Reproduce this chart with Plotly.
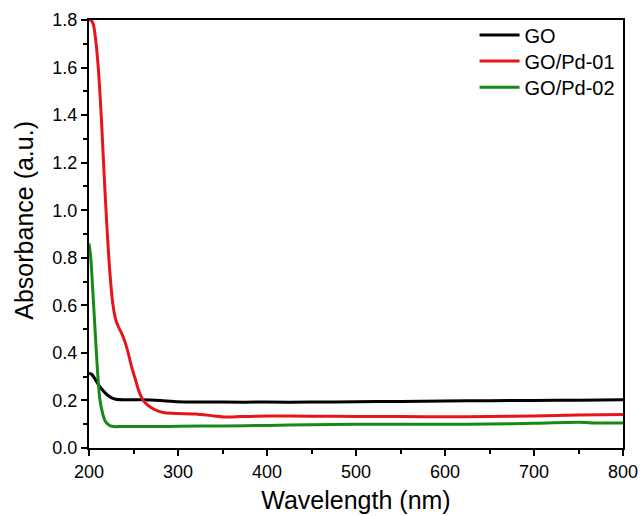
import plotly.graph_objects as go

# wavelength grid (nm) and absorbance
wl_go = [200, 203, 206, 210, 215, 220, 225, 230, 240, 260, 280, 300, 350, 400, 450, 500, 550, 600, 650, 700, 750, 800]
abs_go = [0.315, 0.31, 0.295, 0.27, 0.245, 0.225, 0.212, 0.205, 0.203, 0.203, 0.2, 0.195, 0.193, 0.193, 0.193, 0.195, 0.196, 0.198, 0.199, 0.2, 0.201, 0.203]

wl_pd1 = [200, 202, 205, 208, 211, 214, 217, 220, 223, 227, 230, 233, 237, 241, 244, 248, 252, 256, 261, 266, 272, 278, 285, 300, 320, 340, 353, 370, 400, 450, 500, 550, 600, 650, 700, 750, 800]
abs_pd1 = [1.8, 1.8, 1.78, 1.7, 1.57, 1.38, 1.15, 0.94, 0.76, 0.6, 0.54, 0.51, 0.48, 0.44, 0.4, 0.34, 0.29, 0.24, 0.2, 0.18, 0.165, 0.155, 0.148, 0.145, 0.143, 0.135, 0.13, 0.132, 0.135, 0.134, 0.133, 0.132, 0.131, 0.132, 0.135, 0.139, 0.141]

wl_pd2 = [200, 202, 204, 206, 208, 210, 212, 215, 218, 221, 224, 228, 235, 250, 280, 300, 350, 400, 450, 500, 550, 600, 650, 700, 750, 770, 800]
abs_pd2 = [0.86, 0.8, 0.68, 0.55, 0.42, 0.3, 0.21, 0.15, 0.115, 0.1, 0.093, 0.09, 0.09, 0.09, 0.09, 0.091, 0.093, 0.095, 0.098, 0.1, 0.1, 0.1, 0.101, 0.104, 0.108, 0.105, 0.105]

names = ["GO", "GO/Pd-01", "GO/Pd-02"]
colors = ["#000000", "#e8141b", "#158a15"]

x_ticks = [200, 300, 400, 500, 600, 700, 800]
y_ticks = [0.0, 0.2, 0.4, 0.6, 0.8, 1.0, 1.2, 1.4, 1.6, 1.8]

font_fam = "Arial, Liberation Sans"
legend_names = ["legend", "legend2", "legend3"]

fig = go.Figure()
for wl, ab, name, col, lg in zip([wl_go, wl_pd1, wl_pd2], [abs_go, abs_pd1, abs_pd2], names, colors, legend_names):
    fig.add_trace(go.Scatter(x=wl, y=ab, mode="lines", name=name, legend=lg, showlegend=True,
                             line=dict(color=col, width=3, shape="spline", smoothing=0.6)))

axis_font = dict(family=font_fam, size=18, color="black")
fig.update_xaxes(range=[200, 800], tickvals=x_ticks, ticktext=[str(v) for v in x_ticks],
                 showline=True, linecolor="black", linewidth=2, mirror=True,
                 ticks="outside", ticklen=6, tickwidth=2, tickcolor="black",
                 minor=dict(ticks="outside", ticklen=4, tickwidth=2, tickcolor="black", dtick=50, showgrid=False),
                 showgrid=False, zeroline=False, tickfont=axis_font,
                 title=dict(text="Wavelength (nm)", font=dict(family=font_fam, size=25, color="black"), standoff=11))
fig.update_yaxes(range=[0, 1.8], tickvals=y_ticks, ticktext=["%.1f" % v for v in y_ticks],
                 showline=True, linecolor="black", linewidth=2, mirror=True,
                 ticks="outside", ticklen=6, tickwidth=2, tickcolor="black",
                 minor=dict(ticks="outside", ticklen=4, tickwidth=2, tickcolor="black", dtick=0.1, showgrid=False),
                 showgrid=False, zeroline=False, tickfont=axis_font)

# y title as an annotation: in the reference it sits a bit above the axis middle
fig.add_annotation(text="Absorbance (a.u.)", textangle=-90, xref="paper", yref="paper",
                   x=-0.122, y=0.533, xanchor="center", yanchor="middle", showarrow=False,
                   font=dict(family=font_fam, size=25, color="black"))

# one legend per entry so the rows can sit as tightly as in the reference
leg_style = dict(x=0.722, xanchor="left", yanchor="middle", bgcolor="rgba(0,0,0,0)",
                 font=dict(family=font_fam, size=20, color="black"), itemwidth=40)
fig.update_layout(width=641, height=516, margin=dict(l=89, r=18, t=20, b=68, autoexpand=False),
                  paper_bgcolor="white", plot_bgcolor="white", showlegend=True,
                  legend=dict(y=0.965, **leg_style),
                  legend2=dict(y=0.904, **leg_style),
                  legend3=dict(y=0.843, **leg_style))
fig.write_html("out.html", config={"displayModeBar": False},
               post_script="document.body.style.margin='0';")
